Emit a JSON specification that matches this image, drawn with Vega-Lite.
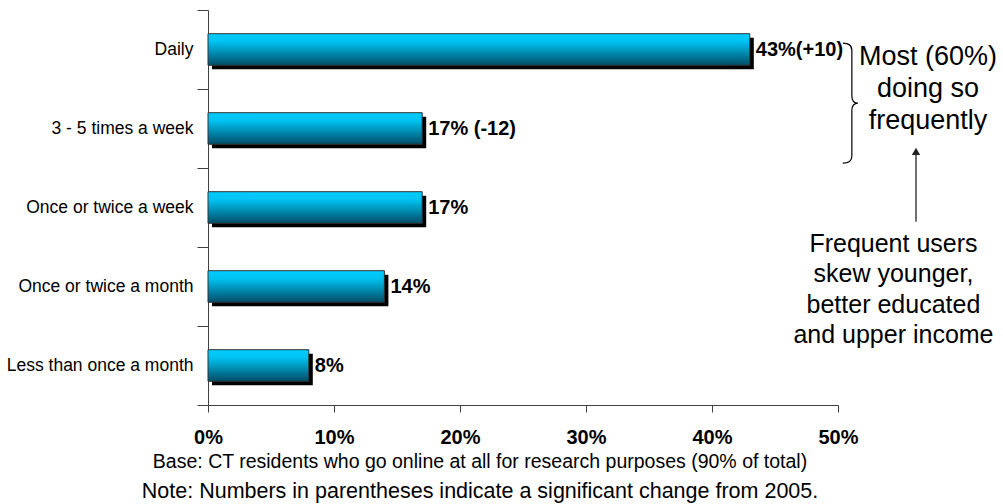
{
  "$schema": "https://vega.github.io/schema/vega-lite/v6.json",
  "width": 630,
  "height": 395,
  "autosize": {"type": "none"},
  "padding": {"left": 208, "top": 10, "right": 165, "bottom": 99},
  "background": "white",
  "config": {"view": {"stroke": null}, "font": "Liberation Sans"},
  "title": {
    "text": "Base:  CT residents who go online at all for research purposes (90% of total)",
    "subtitle": "Note: Numbers in parentheses indicate a significant change from 2005.",
    "orient": "bottom",
    "anchor": "middle",
    "dx": -43,
    "offset": 6,
    "fontSize": 19.5,
    "fontWeight": "normal",
    "color": "#000000",
    "font": "Liberation Sans",
    "subtitleFont": "Liberation Sans",
    "subtitleFontSize": 21.5,
    "subtitleColor": "#000000",
    "subtitlePadding": 8
  },
  "data": {
    "values": [
      {"freq": "Daily", "pct": 43, "label": "43%(+10)"},
      {"freq": "3 - 5 times a week", "pct": 17, "label": "17% (-12)"},
      {"freq": "Once or twice a week", "pct": 17, "label": "17%"},
      {"freq": "Once or twice a month", "pct": 14, "label": "14%"},
      {"freq": "Less than once a month", "pct": 8, "label": "8%"}
    ]
  },
  "encoding": {
    "y": {
      "field": "freq",
      "type": "nominal",
      "sort": null,
      "scale": {"paddingInner": 0, "paddingOuter": 0},
      "axis": {
        "title": null,
        "tickBand": "extent",
        "tickSize": 11,
        "labelPadding": 4,
        "labelFont": "Liberation Sans",
        "labelFontSize": 17.5,
        "labelColor": "#000000",
        "labelLimit": 300,
        "domainColor": "#404040",
        "tickColor": "#404040"
      }
    }
  },
  "layer": [
    {
      "mark": {"type": "bar", "color": "#000000", "xOffset": 4, "yOffset": 4, "height": {"band": 0.4}},
      "encoding": {
        "x": {
          "field": "pct",
          "type": "quantitative",
          "scale": {"domain": [0, 50], "nice": false},
          "axis": {
            "title": null,
            "values": [0, 10, 20, 30, 40, 50],
            "labelExpr": "datum.value + '%'",
            "labelFlush": false,
            "labelFontSize": 20,
            "labelFontWeight": "bold",
            "labelColor": "#000000",
            "tickSize": 7,
            "labelPadding": 15,
            "grid": false,
            "domainColor": "#404040",
            "tickColor": "#404040"
          }
        }
      }
    },
    {
      "mark": {
        "type": "bar",
        "height": {"band": 0.4},
        "stroke": "#333333",
        "strokeWidth": 1,
        "color": {
          "gradient": "linear",
          "x1": 0, "y1": 0, "x2": 0, "y2": 1,
          "stops": [
            {"offset": 0, "color": "#00ccff"},
            {"offset": 0.25, "color": "#00c2f2"},
            {"offset": 1, "color": "#004d66"}
          ]
        }
      },
      "encoding": {"x": {"field": "pct", "type": "quantitative"}}
    },
    {
      "mark": {"type": "text", "align": "left", "baseline": "middle", "dx": 6, "fontSize": 20, "fontWeight": "bold", "font": "Liberation Sans", "color": "#000000"},
      "encoding": {
        "x": {"field": "pct", "type": "quantitative"},
        "text": {"field": "label"}
      }
    },
    {
      "data": {"values": [{}]},
      "mark": {
        "type": "point",
        "shape": "M-0.15,-1 C-0.05,-1 0,-0.97 0,-0.88 L0,-0.12 C0,-0.04 0.04,0 0.1,0 C0.04,0 0,0.04 0,0.12 L0,0.88 C0,0.97 -0.05,1 -0.15,1",
        "size": 14400,
        "filled": false,
        "stroke": "#000000",
        "strokeWidth": 1.2,
        "opacity": 1
      },
      "encoding": {
        "x": {"datum": 51.1, "type": "quantitative"},
        "y": {"datum": "3 - 5 times a week", "type": "nominal", "bandPosition": 0.18}
      }
    },
    {
      "data": {"values": [{}]},
      "mark": {"type": "rule", "stroke": "#222222", "strokeWidth": 1.3},
      "encoding": {
        "x": {"datum": 56.19, "type": "quantitative"},
        "y": {"datum": "3 - 5 times a week", "type": "nominal", "bandPosition": 0.77},
        "y2": {"datum": "Once or twice a week", "bandPosition": 0.68}
      }
    },
    {
      "data": {"values": [{}]},
      "mark": {"type": "point", "shape": "triangle-up", "size": 70, "filled": true, "color": "#222222", "opacity": 1},
      "encoding": {
        "x": {"datum": 56.19, "type": "quantitative"},
        "y": {"datum": "3 - 5 times a week", "type": "nominal", "bandPosition": 0.79}
      }
    },
    {
      "data": {"values": [{}]},
      "mark": {"type": "text", "text": ["Most (60%)", "doing so", "frequently"], "fontSize": 27, "lineHeight": 32, "align": "center", "baseline": "middle", "font": "Liberation Sans", "color": "#000000"},
      "encoding": {
        "x": {"datum": 57.14, "type": "quantitative"},
        "y": {"datum": "Daily", "type": "nominal", "bandPosition": 0.6}
      }
    },
    {
      "data": {"values": [{}]},
      "mark": {"type": "text", "text": ["Frequent users", "skew younger,", "better educated", "and upper income"], "fontSize": 25, "lineHeight": 30.5, "align": "center", "baseline": "middle", "font": "Liberation Sans", "color": "#000000"},
      "encoding": {
        "x": {"datum": 54.4, "type": "quantitative"},
        "y": {"datum": "Once or twice a week", "type": "nominal", "bandPosition": 0.96}
      }
    }
  ]
}
